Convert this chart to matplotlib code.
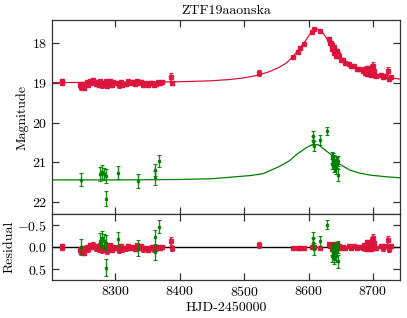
import matplotlib
matplotlib.use("Agg")
import matplotlib.pyplot as plt
import numpy as np

plt.rcParams['font.family'] = 'serif'
plt.rcParams['font.serif'] = ['cmr10']
plt.rcParams['mathtext.fontset'] = 'cm'
plt.rcParams['axes.formatter.use_mathtext'] = True
plt.rcParams['axes.unicode_minus'] = True

title = "ZTF19aaonska"

# r band photometry (HJD-2450000, magnitude, error, residual)
r_t = [8217, 8218, 8245, 8247, 8249, 8251, 8256, 8258, 8261, 8263,
       8266, 8270, 8273, 8275, 8277, 8279, 8281, 8283, 8285, 8287,
       8289, 8292, 8295, 8297, 8303, 8306, 8309, 8311, 8317, 8320,
       8323, 8328, 8331, 8334, 8337, 8340, 8343, 8346, 8351, 8354,
       8357, 8360, 8363, 8366, 8369, 8372, 8386, 8388,
       8523, 8576, 8583, 8587, 8593, 8605, 8609, 8618,
       8631, 8633, 8635, 8636, 8637, 8638, 8639, 8640, 8641, 8642,
       8643, 8644, 8646, 8648, 8651, 8654, 8657, 8662, 8666, 8670,
       8675, 8679, 8684, 8686, 8688, 8689, 8690, 8691, 8692, 8693,
       8694, 8695, 8696, 8697, 8698, 8699, 8700, 8701, 8702, 8704,
       8712, 8715, 8718, 8723, 8725, 8728]
r_mag = [18.96, 19.00, 19.05, 19.10, 19.02, 19.12, 18.98, 19.04, 18.95, 18.99,
         18.93, 19.02, 18.97, 19.04, 18.95, 19.06, 18.99, 19.03, 18.96, 19.08,
         19.01, 18.94, 19.05, 18.98, 19.00, 19.06, 18.97, 19.04, 19.02, 18.96,
         19.01, 18.98, 19.03, 18.95, 19.00, 18.97, 19.04, 19.00, 19.05, 19.01,
         18.99, 19.04, 19.02, 18.98, 19.00, 18.97, 18.84, 19.00,
         18.75, 18.35, 18.22, 18.12, 18.01, 17.71, 17.64, 17.69,
         17.88, 17.98, 18.00, 18.13, 18.05, 18.12, 18.24, 18.10, 18.22, 18.18,
         18.32, 18.20, 18.28, 18.32, 18.41, 18.42, 18.50, 18.51, 18.58, 18.58,
         18.66, 18.65, 18.70, 18.66, 18.75, 18.68, 18.62, 18.77, 18.70, 18.64,
         18.78, 18.72, 18.68, 18.80, 18.60, 18.74, 18.56, 18.79, 18.70, 18.82,
         18.80, 18.86, 18.82, 18.70, 18.90, 18.85]
r_err = [0.05, 0.04, 0.06, 0.07, 0.05, 0.06, 0.05, 0.05, 0.05, 0.04,
         0.05, 0.05, 0.04, 0.05, 0.05, 0.06, 0.05, 0.05, 0.04, 0.06,
         0.05, 0.05, 0.05, 0.04, 0.05, 0.06, 0.05, 0.05, 0.05, 0.04,
         0.05, 0.05, 0.05, 0.04, 0.05, 0.05, 0.05, 0.04, 0.05, 0.05,
         0.04, 0.05, 0.05, 0.04, 0.05, 0.04, 0.10, 0.06,
         0.07, 0.03, 0.03, 0.03, 0.03, 0.02, 0.02, 0.02,
         0.03, 0.04, 0.03, 0.04, 0.04, 0.04, 0.05, 0.04, 0.05, 0.04,
         0.05, 0.04, 0.04, 0.04, 0.04, 0.04, 0.04, 0.05, 0.04, 0.04,
         0.04, 0.04, 0.05, 0.05, 0.06, 0.05, 0.06, 0.05, 0.06, 0.06,
         0.05, 0.06, 0.06, 0.05, 0.07, 0.06, 0.08, 0.05, 0.06, 0.05,
         0.05, 0.05, 0.05, 0.10, 0.06, 0.05]
r_res = [-0.03, 0.01, 0.06, 0.11, 0.03, 0.13, -0.01, 0.05, -0.04, 0.00,
         -0.06, 0.03, -0.02, 0.05, -0.04, 0.07, 0.00, 0.04, -0.03, 0.09,
         0.02, -0.05, 0.06, -0.01, 0.01, 0.07, -0.02, 0.05, 0.03, -0.03,
         0.02, -0.01, 0.04, -0.04, 0.01, -0.02, 0.05, 0.01, 0.06, 0.02,
         0.00, 0.05, 0.03, -0.01, 0.02, -0.01, -0.14, 0.03,
         -0.05, 0.02, 0.03, 0.01, 0.03, 0.00, -0.01, 0.02,
         -0.07, -0.02, -0.06, 0.05, -0.06, -0.01, 0.08, -0.08, 0.01, -0.05,
         0.07, -0.07, -0.03, -0.02, 0.02, -0.01, 0.03, -0.02, 0.02, -0.02,
         0.02, -0.01, 0.01, -0.04, 0.03, -0.04, -0.11, 0.04, -0.04, -0.10,
         0.03, -0.03, -0.08, 0.04, -0.17, -0.03, -0.22, 0.01, -0.09, 0.02,
         -0.02, 0.03, -0.02, -0.16, 0.04, -0.02]

# g band photometry
g_t = [8247, 8276, 8279, 8282, 8286, 8285, 8304, 8336, 8361, 8362, 8368,
       8607, 8607.5, 8608, 8617, 8628,
       8636, 8637, 8638, 8639, 8640, 8641, 8642, 8643, 8644, 8645, 8646]
g_mag = [21.44, 21.30, 21.25, 21.30, 21.35, 21.92, 21.27, 21.47, 21.40, 21.20, 20.97,
         20.33, 20.46, 20.59, 20.44, 20.21,
         20.88, 21.05, 20.93, 21.12, 20.95, 21.08, 20.98, 21.15, 21.02, 20.98, 21.32]
g_err = [0.17, 0.17, 0.18, 0.16, 0.17, 0.20, 0.16, 0.18, 0.17, 0.16, 0.15,
         0.12, 0.12, 0.13, 0.12, 0.10,
         0.14, 0.13, 0.15, 0.14, 0.13, 0.14, 0.13, 0.15, 0.14, 0.13, 0.15]
g_res = [-0.01, -0.15, -0.20, -0.15, -0.10, 0.47, -0.18, 0.02, 0.12, -0.23, -0.47,
         -0.22, -0.09, 0.04, -0.14, -0.51,
         0.05, 0.20, 0.07, 0.24, 0.05, 0.16, 0.05, 0.20, 0.05, 0.00, 0.32]

# model curves
r_model_t = [8202, 8300, 8400, 8450, 8480, 8500, 8520, 8540, 8555, 8565,
             8575, 8585, 8595, 8603, 8608, 8612, 8616, 8621, 8628, 8635,
             8642, 8650, 8660, 8675, 8690, 8705, 8727, 8745]
r_model = [18.99, 18.985, 18.97, 18.945, 18.91, 18.87, 18.81, 18.71, 18.60, 18.50,
           18.35, 18.15, 17.94, 17.75, 17.66, 17.63, 17.65, 17.71, 17.87, 18.06,
           18.23, 18.38, 18.51, 18.64, 18.73, 18.80, 18.87, 18.91]
g_model_t = [8202, 8300, 8400, 8450, 8480, 8510, 8530, 8556, 8570, 8582,
             8597, 8607, 8615, 8634, 8647, 8665, 8680, 8696, 8720, 8745]
g_model = [21.45, 21.45, 21.44, 21.42, 21.38, 21.34, 21.29, 21.10, 20.97, 20.80,
           20.63, 20.55, 20.56, 20.80, 21.04, 21.21, 21.28, 21.33, 21.37, 21.40]

red = '#DC143C'
green = '#008000'

fig = plt.figure(figsize=(4.07, 3.18), dpi=100)
ax = fig.add_axes([0.1278, 0.326, 0.8552, 0.611])
axr = fig.add_axes([0.1278, 0.1195, 0.8552, 0.2065], sharex=ax)

ax.plot(r_model_t, r_model, color=red, lw=0.9)
ax.plot(g_model_t, g_model, color=green, lw=0.9)
ax.errorbar(r_t, r_mag, yerr=r_err, fmt='s', ms=2.2, color=red, ecolor=red,
            elinewidth=1.2, capsize=1.5, capthick=0.8, alpha=0.9)
ax.errorbar(g_t, g_mag, yerr=g_err, fmt='s', ms=2.0, color=green, ecolor=green,
            elinewidth=1, capsize=1.5, capthick=0.8, alpha=0.9)

axr.axhline(0, color='black', lw=1)
axr.errorbar(r_t, r_res, yerr=r_err, fmt='s', ms=2.2, color=red, ecolor=red,
             elinewidth=1.2, capsize=1.5, capthick=0.8, alpha=0.9, zorder=3)
axr.errorbar(g_t, g_res, yerr=g_err, fmt='s', ms=2.0, color=green, ecolor=green,
             elinewidth=1, capsize=1.5, capthick=0.8, alpha=0.9, zorder=4)

ax.set_xlim(8202, 8742)
ax.set_ylim(22.32, 17.41)
axr.set_ylim(0.75, -0.75)
ax.set_yticks([18, 19, 20, 21, 22])
axr.set_yticks([-0.5, 0.0, 0.5])
axr.set_yticklabels(['$-0.5$', '$0.0$', '$0.5$'])
axr.set_xticks([8300, 8400, 8500, 8600, 8700])

for a in (ax, axr):
    a.tick_params(direction='in', top=True, right=True, length=5, width=0.9,
                  labelsize=10, color='#333333')
    for s in a.spines.values():
        s.set_linewidth(0.9)
        s.set_color('#333333')
ax.tick_params(labelbottom=False)

ax.set_title(title, fontsize=10, pad=4)
ax.set_ylabel('Magnitude', fontsize=10, labelpad=2)
axr.set_ylabel('Residual', fontsize=10, labelpad=1)
axr.set_xlabel('HJD-2450000', fontsize=10, labelpad=2)

fig.savefig('out.png', dpi=100)
